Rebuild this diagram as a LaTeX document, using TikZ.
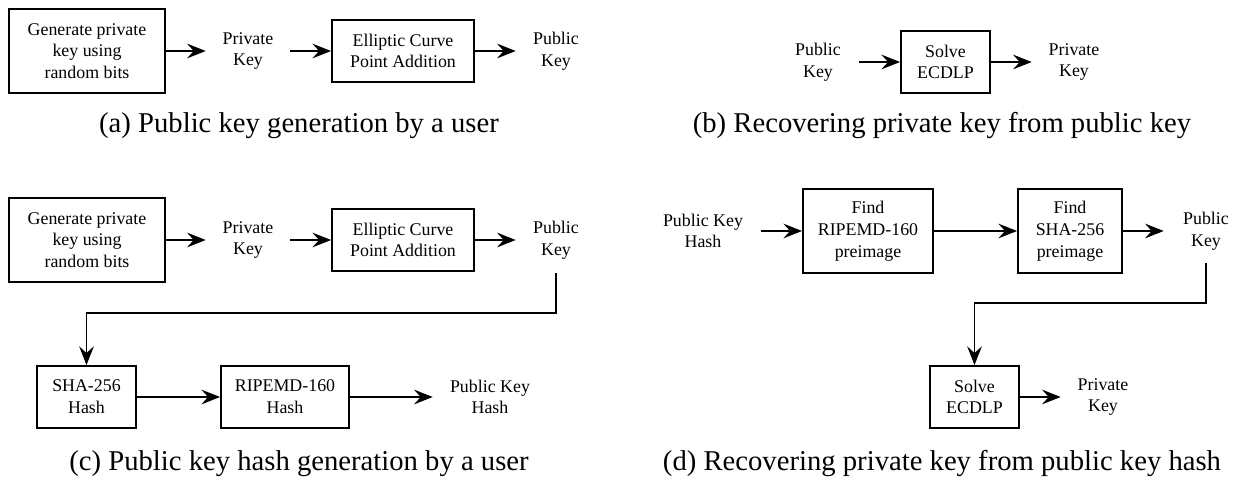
\documentclass[tikz,border=0pt]{standalone}
\usepackage{fontspec}
\setmainfont{Liberation Serif}
\usetikzlibrary{arrows.meta}
\newcommand\figboxfont{\fontsize{13.4pt}{16.3pt}\selectfont}
\newcommand\subcapfont{\fontsize{21.5pt}{26pt}\selectfont}
\begin{document}
\begin{tikzpicture}[x=0.75pt,y=-0.75pt,
  blk/.style={draw, line width=1.4pt, align=center, inner sep=0pt, font=\figboxfont},
  lbl/.style={align=center, inner sep=0pt, font=\figboxfont},
  sz/.style 2 args={minimum width=#1*0.75pt, minimum height=#2*0.75pt},
  arr/.style={line width=1.4pt, -{Stealth[length=14pt,width=11pt,inset=5pt]}},
  subcap/.style={anchor=base, inner sep=0pt, font=\subcapfont}]
\useasboundingbox (0,0) rectangle (1233,481);

% (a) key generation
\node[blk, sz={156}{84}] (gena) at (87,51) {Generate private\\key using\\random bits};
\node[lbl, sz={84}{40}] (pria) at (248,51) {Private\\Key};
\node[blk, sz={142}{62}] (eca) at (403,51) {Elliptic Curve\\Point Addition};
\node[lbl, sz={80}{40}] (puba) at (556,51) {Public\\Key};
\draw[arr] (gena.east) -- (pria.west);
\draw[arr] (pria.east) -- (eca.west);
\draw[arr] (eca.east) -- (puba.west);
\node[subcap] (capa) at (299,133) {(a) Public key generation by a user};

% (b) attack on the public key
\node[lbl, sz={82}{40}] (pubb) at (818,62) {Public\\Key};
\node[blk, sz={89}{62}] (solveb) at (945.5,62) {Solve\\ECDLP};
\node[lbl, sz={84}{40}] (prib) at (1074,62) {Private\\Key};
\draw[arr] (pubb.east) -- (solveb.west);
\draw[arr] (solveb.east) -- (prib.west);
\node[subcap] (capb) at (942,133) {(b) Recovering private key from public key};

% (c) public key hash generation
\node[blk, sz={156}{84}] (genc) at (87,240) {Generate private\\key using\\random bits};
\node[lbl, sz={84}{40}] (pric) at (248,240) {Private\\Key};
\node[blk, sz={142}{62}] (ecc) at (403,240) {Elliptic Curve\\Point Addition};
\node[lbl, sz={80}{66}] (pubc) at (556,240) {Public\\Key};
\node[blk, sz={99}{62}] (shac) at (86.5,397) {SHA-256\\Hash};
\node[blk, sz={128}{62}] (ripc) at (285,397) {RIPEMD-160\\Hash};
\node[lbl, sz={114}{40}] (pkhc) at (490,397) {Public Key\\Hash};
\draw[arr] (genc.east) -- (pric.west);
\draw[arr] (pric.east) -- (ecc.west);
\draw[arr] (ecc.east) -- (pubc.west);
\draw[arr] (pubc.south) -- ++(0,40) -| (shac.north);
\draw[arr] (shac.east) -- (ripc.west);
\draw[arr] (ripc.east) -- (pkhc.west);
\node[subcap] (capc) at (299,470) {(c) Public key hash generation by a user};

% (d) attack on the public key hash
\node[lbl, sz={116}{40}] (pkhd) at (703,231) {Public Key\\Hash};
\node[blk, sz={130}{84}] (ripd) at (868,231) {Find\\RIPEMD-160\\preimage};
\node[blk, sz={104}{84}] (shad) at (1070,231) {Find\\SHA-256\\preimage};
\node[lbl, sz={84}{64}] (pubd) at (1206,231) {Public\\Key};
\node[blk, sz={89}{62}] (solved) at (974.5,397) {Solve\\ECDLP};
\node[lbl, sz={84}{40}] (prid) at (1103,397) {Private\\Key};
\draw[arr] (pkhd.east) -- (ripd.west);
\draw[arr] (ripd.east) -- (shad.west);
\draw[arr] (shad.east) -- (pubd.west);
\draw[arr] (pubd.south) -- ++(0,40) -| (solved.north);
\draw[arr] (solved.east) -- (prid.west);
\node[subcap] (capd) at (942,470) {(d) Recovering private key from public key hash};
\end{tikzpicture}
\end{document}
